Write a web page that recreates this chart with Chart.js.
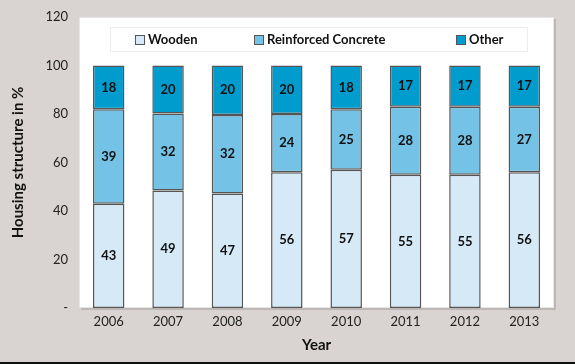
<html>
  <head>
    <title>Housing structure</title>
    <script src="https://cdn.jsdelivr.net/npm/chart.js"></script>
    <style type="text/css">
      html, body { width: 100%; height: 100%; margin: 0; padding: 0; background: #d9d4d1; }
      canvas { display: block; }
    </style>
  </head>
  <body>
    <canvas id="chart" width="575" height="364"></canvas>
    <script>
      // data (labels are rounded values)
      var years = ['2006', '2007', '2008', '2009', '2010', '2011', '2012', '2013'];
      var wooden = [43, 48.5, 47.2, 56, 57, 55, 55, 56];
      var concrete = [39, 31.7, 32.4, 24, 25, 28, 28, 27];
      var other = [18, 19.8, 20.4, 20, 18, 17, 17, 17];
      var yTicks = [0, 20, 40, 60, 80, 100, 120];

      var FONT = "Lato, 'Open Sans', sans-serif";

      // white plot panel, bottom rule
      var panel = {
        id: 'panel',
        beforeDraw: function(chart) {
          var c = chart.ctx, a = chart.chartArea;
          c.save();
          c.fillStyle = '#d9d4d1';
          c.fillRect(0, 0, chart.width, chart.height);
          c.fillStyle = '#bdb8b6';
          c.fillRect(a.left + 2, a.top + 2, a.right - a.left, a.bottom - a.top);
          c.fillStyle = '#ffffff';
          c.fillRect(a.left, a.top, a.right - a.left, a.bottom - a.top);
          c.strokeStyle = '#e6e6e6';
          c.lineWidth = 1;
          c.strokeRect(a.left + 0.5, a.top + 0.5, a.right - a.left - 1, a.bottom - a.top - 1);
          c.fillStyle = '#111';
          c.fillRect(0, chart.height - 2, chart.width, 2);
          c.restore();
        }
      };

      // numbers in the middle of each segment
      var segLabels = {
        id: 'segLabels',
        afterDatasetsDraw: function(chart) {
          var c = chart.ctx;
          c.save();
          c.font = 'bold 13px ' + FONT;
          c.fillStyle = '#111';
          c.textAlign = 'center';
          c.textBaseline = 'middle';
          chart.data.datasets.forEach(function(ds, i) {
            chart.getDatasetMeta(i).data.forEach(function(el, j) {
              var y = (el.y + el.base) / 2;
              c.fillText(Math.round(ds.data[j]), el.x, y);
            });
          });
          c.restore();
        }
      };

      // boxed legend inside the plot
      var boxLegend = {
        id: 'boxLegend',
        afterDraw: function(chart) {
          var c = chart.ctx;
          var xs = [135, 254, 456];
          c.save();
          c.fillStyle = '#ffffff';
          c.fillRect(110, 27, 418, 25);
          c.strokeStyle = '#ededed';
          c.lineWidth = 1;
          c.strokeRect(110.5, 27.5, 417, 24);
          c.font = 'bold 13px ' + FONT;
          c.textBaseline = 'middle';
          chart.data.datasets.forEach(function(ds, i) {
            c.fillStyle = ds.backgroundColor;
            c.fillRect(xs[i], 35, 10, 10);
            c.strokeStyle = '#555';
            c.strokeRect(xs[i] + 0.5, 35.5, 9, 9);
            c.fillStyle = '#111';
            c.fillText(ds.label, xs[i] + 13, 40);
          });
          c.restore();
        }
      };

      new Chart(document.getElementById('chart'), {
        type: 'bar',
        data: {
          labels: years,
          datasets: [
            { label: 'Wooden', data: wooden, backgroundColor: '#d5e9f6' },
            { label: 'Reinforced Concrete', data: concrete, backgroundColor: '#74c2e5' },
            { label: 'Other', data: other, backgroundColor: '#009cce' }
          ]
        },
        plugins: [panel, segLabels, boxLegend],
        options: {
          responsive: false,
          animation: false,
          layout: { padding: { top: 17, right: 21, left: 0, bottom: 0 } },
          datasets: {
            bar: {
              barPercentage: 0.53,
              categoryPercentage: 1,
              borderColor: '#555',
              borderWidth: 1.5,
              borderSkipped: false
            }
          },
          plugins: {
            legend: { display: false },
            tooltip: { enabled: false }
          },
          scales: {
            x: {
              stacked: true,
              grid: { display: false, drawTicks: false },
              border: { display: false },
              ticks: { color: '#222', padding: 6, font: { family: FONT, size: 13 } },
              title: { display: true, text: 'Year', color: '#111', padding: { top: 2, bottom: 10 }, font: { family: FONT, size: 15, weight: 'bold' } },
              afterFit: function(s) { s.height = 56; }
            },
            y: {
              stacked: true,
              min: 0,
              max: 120,
              afterBuildTicks: function(s) { s.ticks = yTicks.map(function(v) { return { value: v }; }); },
              grid: { display: false, drawTicks: false },
              border: { display: false },
              ticks: {
                color: '#222',
                padding: 11,
                font: { family: FONT, size: 13 },
                callback: function(v) { return v === 0 ? '-' : v; }
              },
              title: { display: true, text: 'Housing structure in %', color: '#111', padding: { top: 9.5, bottom: 0 }, font: { family: FONT, size: 15, weight: 'bold' } },
              afterFit: function(s) { s.width = 79; s.paddingTop = 0; s.paddingBottom = 0; }
            }
          }
        }
      });
    </script>
  </body>
</html>
